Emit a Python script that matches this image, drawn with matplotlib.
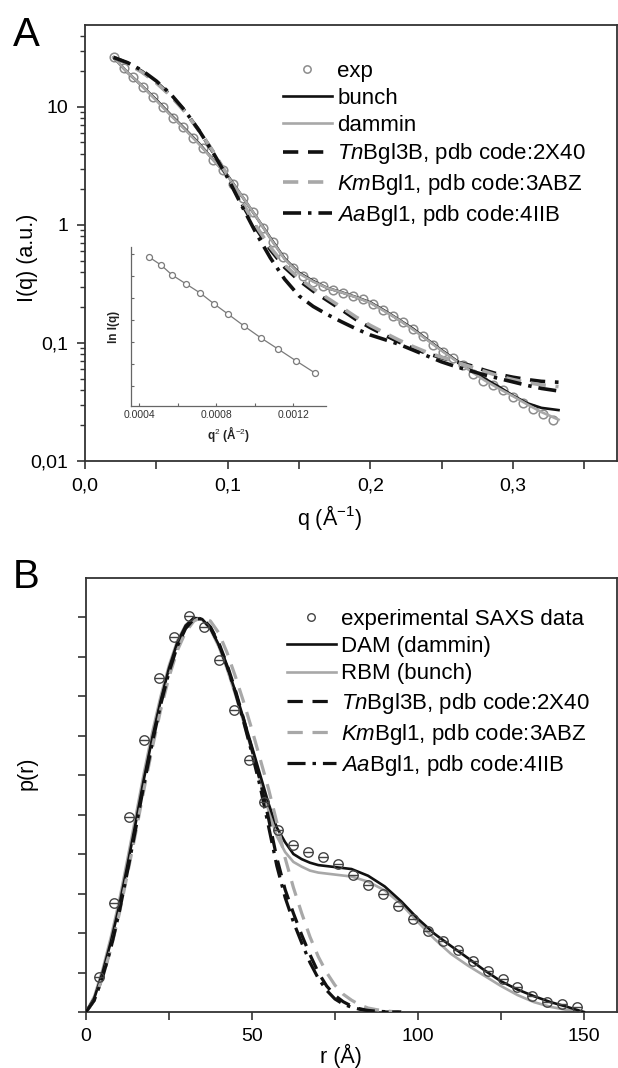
import numpy as np
import matplotlib
matplotlib.use('Agg')
import matplotlib.pyplot as plt
from matplotlib.ticker import FixedLocator, NullFormatter, LogLocator, MultipleLocator

plt.rcParams['font.family'] = ['Liberation Sans', 'DejaVu Sans']
plt.rcParams['mathtext.fontset'] = 'custom'
plt.rcParams['mathtext.rm'] = 'Liberation Sans'
plt.rcParams['mathtext.it'] = 'Liberation Sans:italic'
plt.rcParams['mathtext.bf'] = 'Liberation Sans:bold'
plt.rcParams['lines.scale_dashes'] = False

# ---------------- Panel A data: I(q) ----------------
q_exp = [0.020, 0.027, 0.034, 0.041, 0.048, 0.055, 0.062, 0.069, 0.076, 0.083,
         0.090, 0.097, 0.104, 0.111, 0.118, 0.125, 0.132, 0.139, 0.146, 0.153,
         0.160, 0.167, 0.174, 0.181, 0.188, 0.195, 0.202, 0.209, 0.216, 0.223,
         0.230, 0.237, 0.244, 0.251, 0.258, 0.265, 0.272, 0.279, 0.286, 0.293,
         0.300, 0.307, 0.314, 0.321, 0.328]
I_exp = [26.3, 21.2, 17.8, 14.8, 12.2, 9.9, 8.1, 6.7, 5.5, 4.45,
         3.56, 2.92, 2.24, 1.69, 1.29, 0.94, 0.72, 0.537, 0.43, 0.369,
         0.331, 0.302, 0.283, 0.267, 0.249, 0.234, 0.216, 0.19, 0.17, 0.151,
         0.132, 0.115, 0.0955, 0.0832, 0.074, 0.0646, 0.055, 0.0473, 0.0437, 0.0398,
         0.0351, 0.0309, 0.0275, 0.0248, 0.0221]

q_fit = [0.020, 0.030, 0.040, 0.050, 0.060, 0.070, 0.080, 0.090, 0.100, 0.110,
         0.120, 0.130, 0.140, 0.150, 0.160, 0.170, 0.180, 0.190, 0.200, 0.210,
         0.220, 0.230, 0.240, 0.250, 0.260, 0.270, 0.280, 0.290, 0.300, 0.310,
         0.320, 0.332]
I_bunch = [26.3, 19.5, 15.1, 11.5, 8.61, 6.53, 4.90, 3.56, 2.63, 1.76,
           1.175, 0.776, 0.519, 0.394, 0.335, 0.292, 0.269, 0.245, 0.221, 0.188,
           0.158, 0.132, 0.107, 0.0871, 0.0716, 0.0596, 0.0501, 0.0427, 0.0359, 0.0309,
           0.0282, 0.0270]
I_dammin = [26.3, 19.5, 15.1, 11.35, 8.51, 6.46, 4.84, 3.55, 2.60, 1.76,
            1.175, 0.767, 0.513, 0.389, 0.331, 0.292, 0.268, 0.244, 0.219, 0.186,
            0.157, 0.130, 0.106, 0.0861, 0.0708, 0.0582, 0.0484, 0.0412, 0.0355, 0.0302,
            0.0260, 0.0224]
I_tn = [26.3, 23.4, 19.95, 16.2, 12.6, 9.23, 6.31, 4.12, 2.57, 1.51,
        0.933, 0.617, 0.437, 0.339, 0.275, 0.229, 0.191, 0.158, 0.135, 0.117,
        0.102, 0.0902, 0.0813, 0.075, 0.0692, 0.0646, 0.0589, 0.0543, 0.0513, 0.049,
        0.0473, 0.0465]
I_km = [26.3, 23.2, 19.7, 16.0, 12.45, 9.12, 6.31, 4.17, 2.63, 1.585,
        0.977, 0.646, 0.457, 0.355, 0.288, 0.240, 0.200, 0.166, 0.141, 0.122,
        0.106, 0.0933, 0.0832, 0.0759, 0.0692, 0.0631, 0.0575, 0.0525, 0.049, 0.0462,
        0.0442, 0.0427]
I_aa = [26.3, 23.7, 20.4, 16.6, 12.9, 9.33, 6.31, 4.07, 2.51, 1.45,
        0.851, 0.525, 0.347, 0.251, 0.204, 0.174, 0.151, 0.132, 0.117, 0.107,
        0.0977, 0.0871, 0.0776, 0.0692, 0.0631, 0.0582, 0.0537, 0.0501, 0.0468, 0.0437,
        0.0412, 0.0392]

# Inset (Guinier plot)
q2_guinier = [0.000452, 0.000514, 0.000571, 0.000644, 0.000717, 0.000790,
              0.000862, 0.000945, 0.001034, 0.001122, 0.001216, 0.001314]
lnI_guinier = [3.386, 3.350, 3.305, 3.264, 3.223, 3.173,
               3.127, 3.073, 3.018, 2.968, 2.914, 2.859]

# ---------------- Panel B data: p(r) ----------------
r_exp = [4.0, 8.5, 13.0, 17.5, 22.0, 26.5, 31.0, 35.5, 40.0, 44.5, 49.0,
         53.5, 58.0, 62.5, 67.0, 71.5, 76.0, 80.5, 85.0, 89.5, 94.0, 98.5,
         103.0, 107.5, 112.0, 116.5, 121.0, 125.5, 130.0, 134.5, 139.0, 143.5, 148.0]
p_exp = [0.089, 0.275, 0.493, 0.690, 0.845, 0.950, 1.003, 0.975, 0.891, 0.766, 0.638,
         0.532, 0.462, 0.424, 0.404, 0.392, 0.374, 0.347, 0.322, 0.298, 0.268, 0.235,
         0.205, 0.180, 0.157, 0.129, 0.105, 0.083, 0.063, 0.041, 0.026, 0.019, 0.012]

r_full = [0, 2.5, 5, 7.5, 10, 12.5, 15, 17.5, 20, 22.5, 25, 27.5, 30, 32.5, 35,
          37.5, 40, 42.5, 45, 47.5, 50, 52.5, 55, 57.5, 60, 62.5, 65, 67.5, 70,
          75, 80, 85, 90, 95, 100, 105, 110, 115, 120, 125, 130, 135, 140, 145, 150]
p_dam = [0, 0.035, 0.10, 0.178, 0.268, 0.372, 0.48, 0.592, 0.695, 0.788, 0.87,
         0.935, 0.978, 0.998, 0.995, 0.972, 0.93, 0.875, 0.812, 0.742, 0.672,
         0.60, 0.528, 0.467, 0.43, 0.40, 0.387, 0.378, 0.372, 0.367, 0.362,
         0.345, 0.318, 0.28, 0.236, 0.198, 0.167, 0.137, 0.106, 0.078, 0.057,
         0.04, 0.025, 0.013, 0.0]
p_rbm = [0, 0.04, 0.108, 0.19, 0.282, 0.388, 0.497, 0.608, 0.71, 0.80, 0.878,
         0.94, 0.98, 0.998, 0.993, 0.968, 0.925, 0.868, 0.803, 0.733, 0.66,
         0.585, 0.51, 0.445, 0.405, 0.38, 0.368, 0.358, 0.353, 0.348, 0.343,
         0.33, 0.308, 0.273, 0.228, 0.185, 0.147, 0.118, 0.092, 0.066, 0.043,
         0.025, 0.013, 0.005, 0.0]

r_model = [0, 2.5, 5, 7.5, 10, 12.5, 15, 17.5, 20, 22.5, 25, 27.5, 30, 32.5, 35,
           37.5, 40, 42.5, 45, 47.5, 50, 52.5, 55, 57.5, 60, 62.5, 65, 67.5, 70,
           72.5, 75, 77.5, 80, 82.5, 85, 87.5, 90, 92.5, 95]
p_tn = [0, 0.03, 0.09, 0.165, 0.255, 0.36, 0.468, 0.58, 0.685, 0.78, 0.862,
        0.928, 0.972, 0.996, 0.997, 0.975, 0.935, 0.88, 0.815, 0.742, 0.665,
        0.585, 0.49, 0.39, 0.31, 0.25, 0.195, 0.145, 0.10, 0.066, 0.042,
        0.026, 0.015, 0.008, 0.004, 0.002, 0.0, 0.0, 0.0]
p_km = [0, 0.03, 0.088, 0.16, 0.248, 0.35, 0.455, 0.565, 0.67, 0.765, 0.848,
        0.915, 0.962, 0.99, 1.0, 0.99, 0.96, 0.91, 0.85, 0.785, 0.715,
        0.64, 0.565, 0.48, 0.39, 0.315, 0.25, 0.19, 0.14, 0.10, 0.068,
        0.045, 0.03, 0.018, 0.01, 0.006, 0.003, 0.001, 0.0]
p_aa = [0, 0.03, 0.088, 0.162, 0.252, 0.356, 0.465, 0.577, 0.682, 0.778, 0.86,
        0.926, 0.971, 0.995, 0.996, 0.973, 0.932, 0.876, 0.81, 0.735, 0.655,
        0.57, 0.47, 0.37, 0.29, 0.228, 0.175, 0.125, 0.085, 0.055, 0.033,
        0.02, 0.012, 0.007, 0.004, 0.002, 0.001, 0.0, 0.0]

# tick labels
A_xticks = [0.0, 0.1, 0.2, 0.3]
A_xticklabels = ['0,0', '0,1', '0,2', '0,3']
A_yticks = [0.01, 0.1, 1, 10]
A_yticklabels = ['0,01', '0,1', '1', '10']
B_xticks = [0, 50, 100, 150]
B_xticklabels = ['0', '50', '100', '150']
inset_xticks = [0.0004, 0.0008, 0.0012]
inset_xticklabels = ['0.0004', '0.0008', '0.0012']

# ---------------- styling ----------------
W, H = 618, 1068
BLACK = '#111111'
GRAY = '#a8a8a8'
SPINE = '#333333'
DASH = (0, (11, 7))
DASHDOT = (0, (13, 5, 2.5, 5))


def fx(px):
    return px / W


def fy(py):
    return 1 - py / H


fig = plt.figure(figsize=(W / 100, H / 100), dpi=100)

# ================= Panel A =================
axA = fig.add_axes([fx(85), fy(461), (617 - 85) / W, (461 - 25) / H])
axA.set_yscale('log')
axA.plot(q_exp, I_exp, linestyle='none', marker='o', ms=6.2, mfc='none',
         mec='#8c8c8c', mew=1.1, label='exp', zorder=2)
axA.plot(q_fit, I_bunch, color=BLACK, lw=1.9, label='bunch', zorder=3)
axA.plot(q_fit, I_dammin, color=GRAY, lw=1.9, label='dammin', zorder=3)
axA.plot(q_fit, I_tn, color=BLACK, lw=2.6, ls=DASH,
         label=r'$\mathit{Tn}$Bgl3B, pdb code:2X40', zorder=4)
axA.plot(q_fit, I_km, color=GRAY, lw=2.6, ls=DASH,
         label=r'$\mathit{Km}$Bgl1, pdb code:3ABZ', zorder=4)
axA.plot(q_fit, I_aa, color=BLACK, lw=2.6, ls=DASHDOT,
         label=r'$\mathit{Aa}$Bgl1, pdb code:4IIB', zorder=4)

axA.set_xlim(0, 0.373)
axA.set_ylim(0.01, 49.5)
axA.set_xticks(A_xticks)
axA.set_xticklabels(A_xticklabels)
axA.xaxis.set_minor_locator(FixedLocator([0.05, 0.15, 0.25, 0.35]))
axA.set_yticks(A_yticks)
axA.set_yticklabels(A_yticklabels)
axA.yaxis.set_minor_locator(LogLocator(base=10, subs=np.arange(2, 10)))
axA.yaxis.set_minor_formatter(NullFormatter())
axA.tick_params(which='both', direction='out', top=False, right=False,
                labelsize=14, color=SPINE, width=1.2)
axA.tick_params(which='major', length=6, pad=6)
axA.tick_params(axis='x', which='minor', length=6, width=1.2)
axA.tick_params(axis='y', which='minor', length=3.5, width=1.0)
for s in axA.spines.values():
    s.set_color(SPINE)
    s.set_linewidth(1.3)

legA = axA.legend(loc='upper left', bbox_to_anchor=((283 - 85) / 532, (461 - 61) / 436),
                  frameon=False, fontsize=16, handlelength=2.2, handletextpad=0.25,
                  labelspacing=0.26, borderpad=0, borderaxespad=0, markerscale=0.85)

fig.text(fx(27), fy(258), 'I(q) (a.u.)', rotation=90, ha='center', va='center', fontsize=15.5)
fig.text(fx(330), fy(518), r'q (Å$^{-1}$)', ha='center', va='center', fontsize=15.5)
fig.text(fx(13), fy(46), 'A', fontsize=29, ha='left', va='baseline')

# Inset
axI = fig.add_axes([fx(131), fy(406), (326 - 131) / W, (406 - 247) / H])
axI.plot(q2_guinier, lnI_guinier, color='#7a7a7a', lw=0.9, marker='o', ms=4.3,
         mfc='white', mec='#7a7a7a', mew=0.9)
axI.set_xlim(0.000358, 0.001371)
axI.set_ylim(2.709, 3.432)
axI.set_xticks(inset_xticks)
axI.set_xticklabels(inset_xticklabels)
axI.xaxis.set_minor_locator(FixedLocator([0.0006, 0.0010]))
axI.yaxis.set_major_locator(MultipleLocator(0.1))
axI.set_yticklabels([])
axI.spines['top'].set_visible(False)
axI.spines['right'].set_visible(False)
for s in ['left', 'bottom']:
    axI.spines[s].set_color('#666666')
    axI.spines[s].set_linewidth(0.9)
axI.tick_params(which='both', direction='in', length=2.5, width=0.8, color='#666666',
                labelsize=7.5, pad=3, labelcolor='#333333')
axI.patch.set_alpha(0)
axI.set_xlabel(r'q$^2$ (Å$^{-2}$)', fontsize=8.5, fontweight='bold', labelpad=3, color='#222222')
axI.set_ylabel('ln I(q)', fontsize=8.5, fontweight='bold', labelpad=5, color='#222222')

# ================= Panel B =================
axB = fig.add_axes([fx(86), fy(1012), (617 - 86) / W, (1012 - 578) / H])
axB.plot(r_exp, p_exp, linestyle='none', marker='o', ms=6.8, mfc='none', mec='#444444',
         mew=1.0, label='experimental SAXS data', zorder=5)
axB.plot(r_exp, p_exp, linestyle='none', marker='_', ms=6.8, mec='#444444', mew=1.0, zorder=5)
axB.plot(r_full, p_dam, color=BLACK, lw=1.9, label='DAM (dammin)', zorder=3)
axB.plot(r_full, p_rbm, color=GRAY, lw=1.9, label='RBM (bunch)', zorder=2)
axB.plot(r_model, p_tn, color=BLACK, lw=2.3, ls=DASH,
         label=r'$\mathit{Tn}$Bgl3B, pdb code:2X40', zorder=4)
axB.plot(r_model, p_km, color=GRAY, lw=2.3, ls=DASH,
         label=r'$\mathit{Km}$Bgl1, pdb code:3ABZ', zorder=4)
axB.plot(r_model, p_aa, color=BLACK, lw=2.3, ls=DASHDOT,
         label=r'$\mathit{Aa}$Bgl1, pdb code:4IIB', zorder=4)

axB.set_xlim(0, 160)
axB.set_ylim(0, 1.099)
axB.set_xticks(B_xticks)
axB.set_xticklabels(B_xticklabels)
axB.xaxis.set_minor_locator(FixedLocator([25, 75, 125]))
axB.yaxis.set_major_locator(MultipleLocator(0.2))
axB.yaxis.set_minor_locator(MultipleLocator(0.1))
axB.yaxis.set_major_formatter(NullFormatter())
axB.yaxis.set_minor_formatter(NullFormatter())
axB.tick_params(which='both', direction='out', top=False, right=False,
                labelsize=14, color=SPINE, width=1.2, length=5.5)
axB.tick_params(which='major', pad=6)
for s in axB.spines.values():
    s.set_color(SPINE)
    s.set_linewidth(1.3)

legB = axB.legend(loc='upper left', bbox_to_anchor=((287 - 86) / 531, (1012 - 609) / 434),
                  frameon=False, fontsize=16, handlelength=2.2, handletextpad=0.25,
                  labelspacing=0.28, borderpad=0, borderaxespad=0, markerscale=0.8)

fig.text(fx(27), fy(773), 'p(r)', rotation=90, ha='center', va='center', fontsize=15.5)
fig.text(fx(341), fy(1056), 'r (Å)', ha='center', va='center', fontsize=15.5)
fig.text(fx(13), fy(588), 'B', fontsize=29, ha='left', va='baseline')

fig.savefig('out.png', dpi=100)
